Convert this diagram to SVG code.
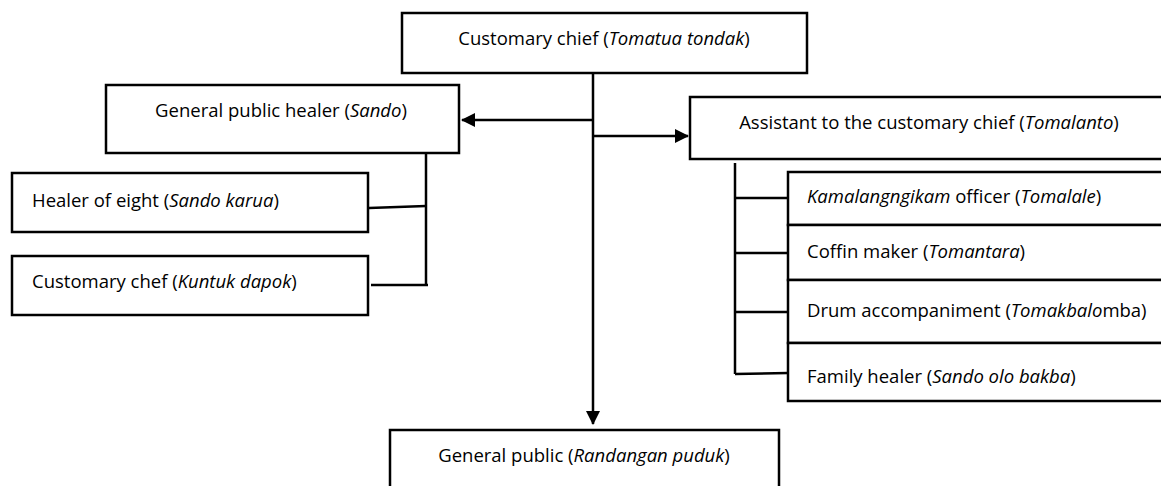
<svg xmlns="http://www.w3.org/2000/svg" width="1161" height="486" viewBox="0 0 1161 486">
<style>
.box{fill:#fff;stroke:#000;stroke-width:2.5}
.ln{fill:none;stroke:#000;stroke-width:2.5}
text{font-family:"Open Sans","Liberation Sans",sans-serif;font-size:18.5px;fill:#000}
.c{text-anchor:middle}
</style>
<defs>
<marker id="ah" markerWidth="14" markerHeight="14" viewBox="0 0 14 14" refX="13" refY="7" orient="auto" markerUnits="userSpaceOnUse">
<path d="M0,0 L14,7 L0,14 Z" fill="#000"/>
</marker>
</defs>
<g id="connectors">
<path class="ln" d="M593,73 V424" marker-end="url(#ah)"/>
<path class="ln" d="M593,120 H462" marker-end="url(#ah)"/>
<path class="ln" d="M593,136 H688" marker-end="url(#ah)"/>
<path class="ln" d="M426,153 V285"/>
<path class="ln" d="M369,208 L426,206"/>
<path class="ln" d="M371,285 H428"/>
<path class="ln" d="M735,163 V374"/>
<path class="ln" d="M735,198 H788"/>
<path class="ln" d="M735,253 H788"/>
<path class="ln" d="M734,312 H788"/>
<path class="ln" d="M735,374 L788,373"/>
</g>
<g id="chief">
<rect class="box" x="402" y="13" width="405" height="60"/>
<text class="c" x="604" y="45">Customary chief (<tspan font-style="italic">Tomatua tondak</tspan>)</text>
</g>
<g id="sando">
<rect class="box" x="106" y="85" width="353" height="68"/>
<text class="c" x="281" y="117">General public healer (<tspan font-style="italic">Sando</tspan>)</text>
</g>
<g id="assistant">
<rect class="box" x="690" y="97" width="475" height="62"/>
<text class="c" x="929" y="129">Assistant to the customary chief (<tspan font-style="italic">Tomalanto</tspan>)</text>
</g>
<g id="healer-eight">
<rect class="box" x="12" y="173" width="356" height="59"/>
<text x="32" y="207">Healer of eight (<tspan font-style="italic">Sando karua</tspan>)</text>
</g>
<g id="chef">
<rect class="box" x="12" y="256" width="356" height="59"/>
<text x="32" y="288">Customary chef (<tspan font-style="italic">Kuntuk dapok</tspan>)</text>
</g>
<g id="kamal">
<rect class="box" x="788" y="172" width="377" height="53"/>
<text x="807" y="203"><tspan font-style="italic">Kamalangngikam</tspan> officer (<tspan font-style="italic">Tomalale</tspan>)</text>
</g>
<g id="coffin">
<rect class="box" x="788" y="225" width="377" height="55"/>
<text x="807" y="258">Coffin maker (<tspan font-style="italic">Tomantara</tspan>)</text>
</g>
<g id="drum">
<rect class="box" x="788" y="280" width="377" height="63"/>
<text x="807" y="317">Drum accompaniment (<tspan font-style="italic">Tomakbalo</tspan>mba)</text>
</g>
<g id="family">
<rect class="box" x="788" y="343" width="377" height="58"/>
<text x="807" y="383">Family healer (<tspan font-style="italic">Sando olo bakba</tspan>)</text>
</g>
<g id="public">
<rect class="box" x="390" y="430" width="389" height="70"/>
<text class="c" x="584" y="462">General public (<tspan font-style="italic">Randangan puduk</tspan>)</text>
</g>
</svg>
